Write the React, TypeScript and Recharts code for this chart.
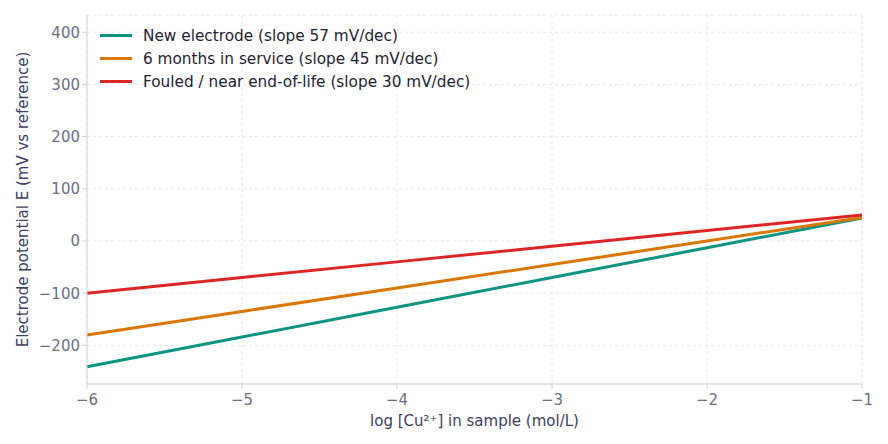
import { LineChart, Line, XAxis, YAxis, CartesianGrid } from 'recharts';

// log concentration points (decades)
const logConc = [-6, -5, -4, -3, -2, -1];
// electrode potential readings, mV vs reference
const newElectrode = [-241, -184, -127, -70, -13, 44];
const sixMonths = [-180, -135, -90, -45, 0, 45];
const fouled = [-100, -70, -40, -10, 20, 50];

const xTicks = [-6, -5, -4, -3, -2, -1];
const yTicks = [-200, -100, 0, 100, 200, 300, 400];

const seriesNames = [
    'New electrode (slope 57 mV/dec)',
    '6 months in service (slope 45 mV/dec)',
    'Fouled / near end-of-life (slope 30 mV/dec)',
];
const COLORS = ['#0f9482', '#d97706', '#dc2626'];

const data = logConc.map((x, i) => ({
    x,
    a: newElectrode[i],
    b: sixMonths[i],
    c: fouled[i],
}));

const FONT = 'DejaVu Sans, sans-serif';
const minus = (v: number) => String(v).replace('-', '\u2212');

function LegendBox() {
    return (
        <div style={{ position: 'absolute', top: 16, left: 92, fontFamily: FONT, fontSize: 15.3, color: '#1f2333' }}>
            {seriesNames.map((name, i) => (
                <div key={name} style={{ display: 'flex', alignItems: 'center', height: 23 }}>
                    <div style={{ width: 32, height: 3, background: COLORS[i], marginRight: 11 }} />
                    <span>{name}</span>
                </div>
            ))}
        </div>
    );
}

export default function App() {
    const keys = ['a', 'b', 'c'];
    return (
        <div style={{ position: 'relative', width: 872, height: 428 }}>
            <LineChart width={872} height={428} data={data} margin={{ top: 7, right: 18, left: 0, bottom: 0 }}>
                <CartesianGrid stroke="#e8e9ee" strokeDasharray="3 3" />
                <XAxis
                    dataKey="x"
                    type="number"
                    domain={[-6, -1]}
                    ticks={xTicks}
                    tickFormatter={minus}
                    height={52}
                    stroke="#cfd0da"
                    tickSize={5}
                    tickMargin={5}
                    tick={{ fill: '#6b7083', fontSize: 15, fontFamily: FONT }}
                    label={{ value: 'log [Cu²⁺] in sample (mol/L)', position: 'insideBottom', offset: 10, fill: '#3d4160', fontSize: 15, fontFamily: FONT }}
                />
                <YAxis
                    type="number"
                    domain={[-274, 433]}
                    ticks={yTicks}
                    tickFormatter={minus}
                    width={79}
                    stroke="#cfd0da"
                    tickSize={5}
                    tick={{ fill: '#6b7083', fontSize: 15, fontFamily: FONT }}
                    label={{ value: 'Electrode potential E (mV vs reference)', angle: -90, position: 'insideLeft', offset: 15, style: { textAnchor: 'middle' }, fill: '#3d4160', fontSize: 15, fontFamily: FONT }}
                />
                {keys.map((k, i) => (
                    <Line
                        key={k}
                        dataKey={k}
                        name={seriesNames[i]}
                        stroke={COLORS[i]}
                        strokeWidth={3}
                        dot={false}
                        isAnimationActive={false}
                    />
                ))}
            </LineChart>
            <LegendBox />
        </div>
    );
}
